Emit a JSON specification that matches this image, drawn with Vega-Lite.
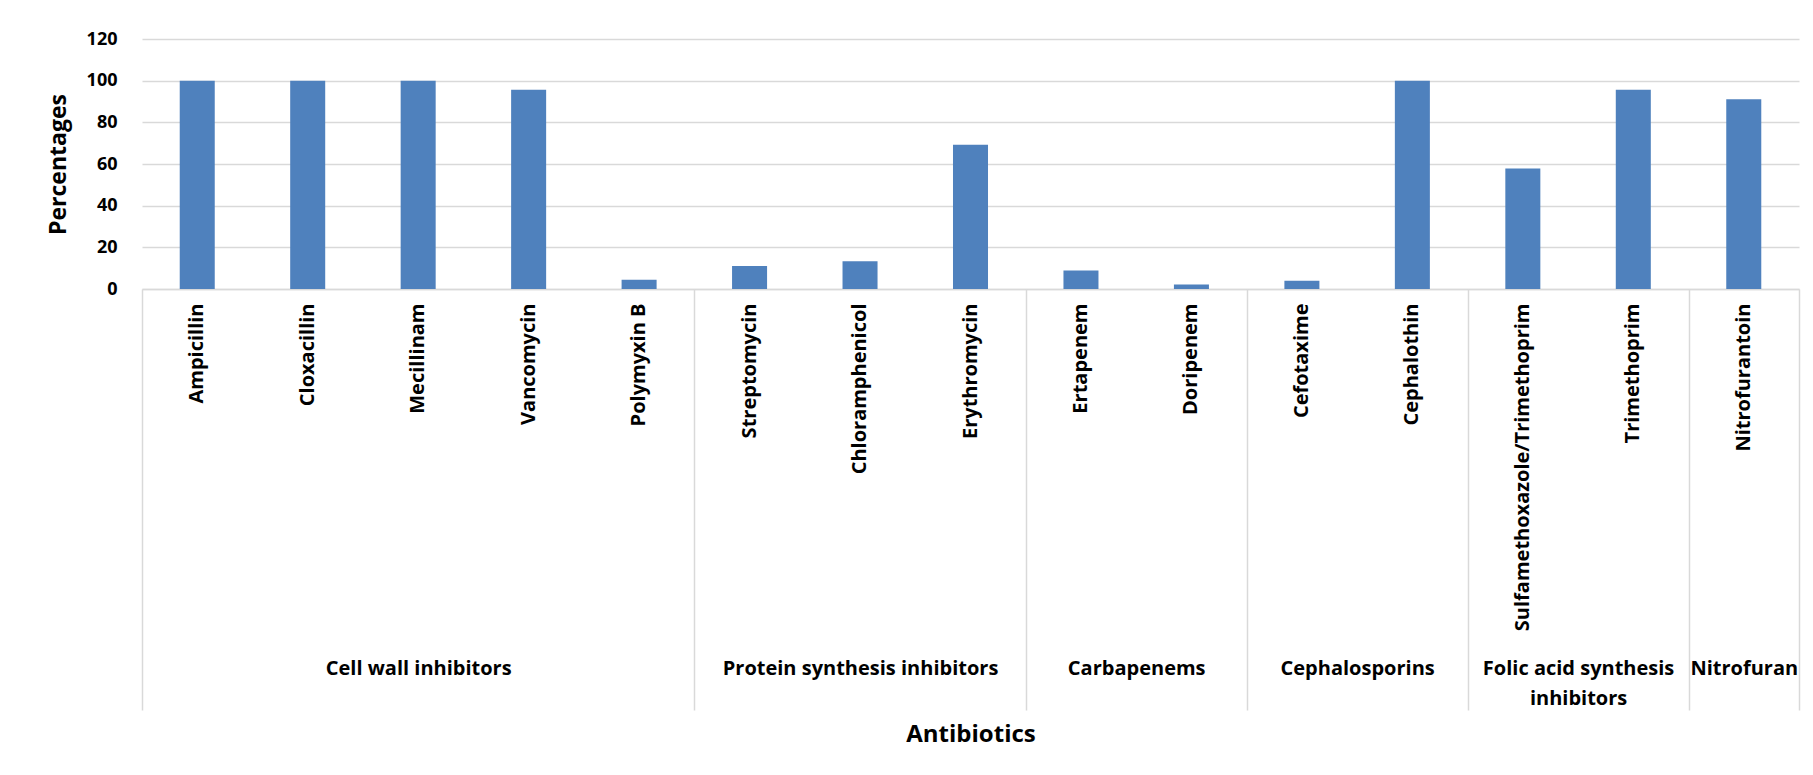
{
  "$schema": "https://vega.github.io/schema/vega-lite/v6.json",
  "autosize": {"type": "none"},
  "padding": {"left": 142, "top": 39, "right": 14, "bottom": 486},
  "width": 1657,
  "height": 250,
  "background": "#ffffff",
  "config": {
    "view": {"stroke": null},
    "font": "Open Sans",
    "axis": {"labelColor": "#000000", "titleColor": "#000000", "labelFont": "Open Sans", "titleFont": "Open Sans"}
  },
  "data": {
    "values": [
      {"drug": "Ampicillin", "group": "Cell wall inhibitors", "pct": 100},
      {"drug": "Cloxacillin", "group": "Cell wall inhibitors", "pct": 100},
      {"drug": "Mecillinam", "group": "Cell wall inhibitors", "pct": 100},
      {"drug": "Vancomycin", "group": "Cell wall inhibitors", "pct": 95.6},
      {"drug": "Polymyxin B", "group": "Cell wall inhibitors", "pct": 4.4},
      {"drug": "Streptomycin", "group": "Protein synthesis inhibitors", "pct": 11.1},
      {"drug": "Chloramphenicol", "group": "Protein synthesis inhibitors", "pct": 13.3},
      {"drug": "Erythromycin", "group": "Protein synthesis inhibitors", "pct": 69.2},
      {"drug": "Ertapenem", "group": "Carbapenems", "pct": 8.9},
      {"drug": "Doripenem", "group": "Carbapenems", "pct": 2.2},
      {"drug": "Cefotaxime", "group": "Cephalosporins", "pct": 4.0},
      {"drug": "Cephalothin", "group": "Cephalosporins", "pct": 100},
      {"drug": "Sulfamethoxazole/Trimethoprim", "group": "Folic acid synthesis inhibitors", "pct": 57.8},
      {"drug": "Trimethoprim", "group": "Folic acid synthesis inhibitors", "pct": 95.6},
      {"drug": "Nitrofurantoin", "group": "Nitrofuran", "pct": 91.1}
    ]
  },
  "layer": [
    {
      "mark": {"type": "bar", "color": "#4F81BD"},
      "encoding": {
        "x": {
          "field": "drug",
          "type": "nominal",
          "sort": null,
          "scale": {"paddingInner": 0.683, "paddingOuter": 0.3415},
          "axis": {
            "orient": "bottom",
            "title": null,
            "labelAngle": 270,
            "labelAlign": "right",
            "labelBaseline": "middle",
            "labelFontSize": 20,
            "labelFontWeight": "bold",
            "labelPadding": 14,
            "labelLimit": 0,
            "ticks": false,
            "domainColor": "#D9D9D9",
            "domainWidth": 1.5,
            "grid": false
          }
        },
        "y": {
          "field": "pct",
          "type": "quantitative",
          "scale": {"domain": [0, 120], "nice": false},
          "axis": {
            "values": [0, 20, 40, 60, 80, 100, 120],
            "grid": true,
            "gridColor": "#D9D9D9",
            "gridWidth": 1.5,
            "domain": false,
            "ticks": false,
            "labelFontSize": 18,
            "labelFontWeight": "bold",
            "labelPadding": 25,
            "title": "Percentages",
            "titleFontSize": 23,
            "titleFontWeight": "bold",
            "titlePadding": 16
          }
        }
      }
    },
    {
      "data": {"values": [{}]},
      "mark": {"type": "rule", "opacity": 0},
      "encoding": {
        "x": {
          "datum": 0,
          "type": "quantitative",
          "scale": {"domain": [0, 15], "nice": false, "zero": false},
          "axis": {
            "orient": "bottom",
            "values": [0, 5, 8, 10, 12, 14, 15],
            "labels": false,
            "domain": false,
            "grid": false,
            "ticks": true,
            "tickSize": 421,
            "tickColor": "#D9D9D9",
            "tickWidth": 1.5,
            "title": "Antibiotics",
            "titleFontSize": 24,
            "titleFontWeight": "bold",
            "titleBaseline": "alphabetic",
            "titleY": 452
          }
        }
      }
    },
    {
      "data": {"values": [{}]},
      "mark": {"type": "rule", "opacity": 0},
      "encoding": {
        "x": {
          "datum": 0,
          "type": "quantitative",
          "scale": {"domain": [0, 15], "nice": false, "zero": false},
          "axis": {
            "orient": "bottom",
            "values": [2.5, 6.5, 9, 11, 13, 14.5],
            "labelExpr": "datum.value == 2.5 ? 'Cell wall inhibitors' : datum.value == 6.5 ? 'Protein synthesis inhibitors' : datum.value == 9 ? 'Carbapenems' : datum.value == 11 ? 'Cephalosporins' : datum.value == 13 ? ['Folic acid synthesis', 'inhibitors'] : 'Nitrofuran'",
            "labelFontSize": 20,
            "labelFontWeight": "bold",
            "labelLineHeight": 30,
            "labelPadding": 369,
            "labelLimit": 0,
            "labelOverlap": false,
            "labelFlush": false,
            "labelAlign": "center",
            "labelBaseline": "top",
            "ticks": false,
            "domain": false,
            "grid": false,
            "title": null
          }
        }
      }
    }
  ],
  "resolve": {"scale": {"x": "independent"}, "axis": {"x": "independent"}}
}
